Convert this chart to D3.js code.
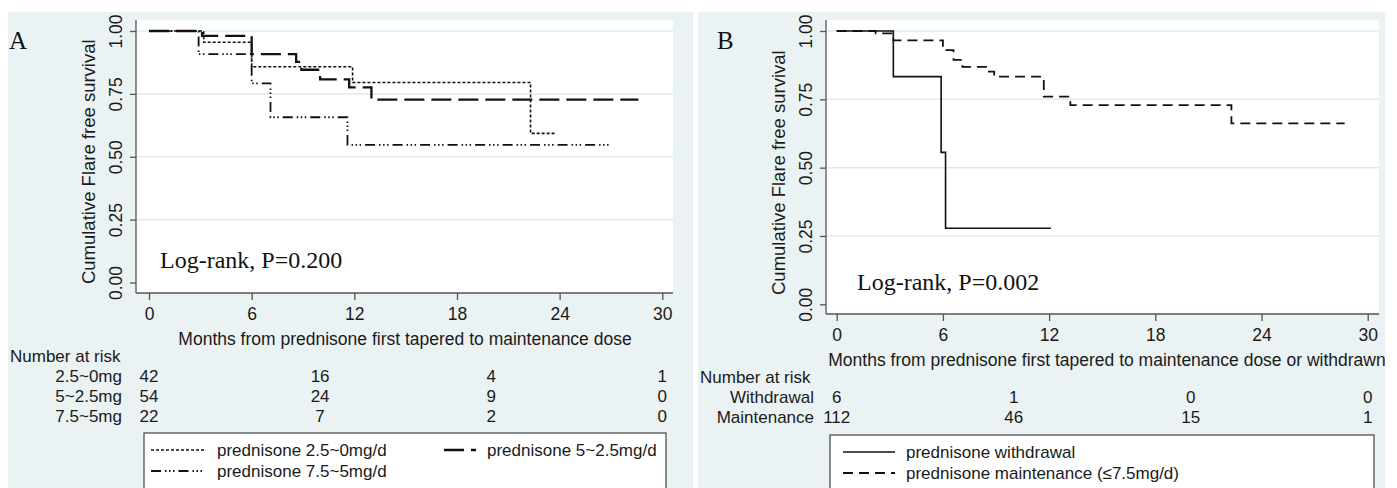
<!DOCTYPE html>
<html>
<head>
	<title></title>
	<style type="text/css">
		body {
			margin: 0;
			background: #fff;
		}
		.sans {
			font-family: "Liberation Sans", Arial, sans-serif;
			fill: #1a1a1a;
		}
		.serif {
			font-family: "Liberation Serif", "Times New Roman", serif;
			fill: #111;
		}
	</style>
</head>
<body>
	<svg class="viz" width="1397" height="488"></svg>

	<script src="https://d3js.org/d3.v7.min.js" charset="utf-8"></script>
	<script type="text/javascript">

		// ---- data ----
		// panel A: months and survival at each step (last point = end of follow-up)
		var aDoseA_t = [0, 3.2, 6.0, 11.9, 22.3, 23.7];
		var aDoseA_s = [1, 0.955, 0.858, 0.795, 0.593, 0.593];
		var aDoseB_t = [0, 3.1, 6.0, 8.6, 8.9, 10.0, 11.7, 13.0, 28.6];
		var aDoseB_s = [1, 0.981, 0.908, 0.877, 0.846, 0.808, 0.776, 0.727, 0.727];
		var aDoseC_t = [0, 2.9, 6.0, 7.1, 11.6, 27.0];
		var aDoseC_s = [1, 0.908, 0.792, 0.657, 0.547, 0.547];

		// panel B
		var bWithdraw_t = [0, 3.2, 5.9, 6.15, 12.1];
		var bWithdraw_s = [1, 0.833, 0.556, 0.278, 0.278];
		var bMaint_t = [0, 2.2, 3.2, 6.0, 6.6, 7.1, 8.5, 8.9, 11.7, 13.2, 22.3, 28.7];
		var bMaint_s = [1, 0.991, 0.966, 0.930, 0.894, 0.869, 0.851, 0.833, 0.760, 0.729, 0.662, 0.662];

		var xTicks = [0, 6, 12, 18, 24, 30];
		var yTicks = [0, 0.25, 0.5, 0.75, 1];
		var riskTimes = [0, 10, 20, 30];

		var aRiskLabels = ['2.5~0mg', '5~2.5mg', '7.5~5mg'];
		var aRisk = [[42, 16, 4, 1], [54, 24, 9, 0], [22, 7, 2, 0]];
		var bRiskLabels = ['Withdrawal', 'Maintenance'];
		var bRisk = [[6, 1, 0, 0], [112, 46, 15, 1]];

		var aLegend = ['prednisone 2.5~0mg/d', 'prednisone 5~2.5mg/d', 'prednisone 7.5~5mg/d'];
		var bLegend = ['prednisone withdrawal', 'prednisone maintenance (\u22647.5mg/d)'];

		// line styles
		var dotted = { dash: '3,2', w: 1.6 };
		var longdash = { dash: '20,7', w: 2.3 };
		var dashdot = { dash: '10,4,1.5,2.5,1.5,2.5,1.5,4', w: 1.8 };
		var solid = { dash: null, w: 1.6 };
		var dashed = { dash: '10,6', w: 1.8 };

		var svg = d3.select('.viz');

		function drawPanel(p, id) {
			// clip each panel to its background box
			svg.append('clipPath').attr('id', id)
				.append('rect')
					.attr('x', p.bg[0]).attr('y', 0)
					.attr('width', p.bg[1] - p.bg[0]).attr('height', 488);
			var g = svg.append('g').attr('clip-path', 'url(#' + id + ')');

			// panel background
			g.append('rect')
				.attr('x', p.bg[0]).attr('y', 12)
				.attr('width', p.bg[1] - p.bg[0]).attr('height', 480)
				.attr('fill', '#eaf2f3');

			var x = d3.scaleLinear().domain([0, 30]).range([p.x0, p.x30]);
			var y = d3.scaleLinear().domain([0, 1]).range([p.y0, 31]);

			// plot region
			g.append('rect')
				.attr('x', p.left).attr('y', 20)
				.attr('width', p.right - p.left).attr('height', p.axisY - 20)
				.attr('fill', '#fff');

			// grid lines
			g.selectAll('.grid').data(yTicks.filter(function(d) { return d > 0; }))
				.enter().append('line')
					.attr('x1', p.left).attr('x2', p.right)
					.attr('y1', function(d) { return y(d); })
					.attr('y2', function(d) { return y(d); })
					.attr('stroke', '#dfeaee').attr('stroke-width', 1.5);

			// y axis
			var yAxis = g.append('g')
				.attr('transform', 'translate(' + p.left + ',0)')
				.call(d3.axisLeft(y).tickValues(yTicks).tickSize(6).tickFormat(d3.format('.2f')));
			yAxis.select('.domain').attr('d', 'M0,20V' + p.axisY);
			yAxis.selectAll('.tick text')
				.attr('class', 'sans')
				.attr('transform', 'rotate(-90)')
				.attr('x', 0).attr('y', -14).attr('dy', 0)
				.attr('text-anchor', 'middle')
				.style('font-size', '17.5px');

			// x axis
			var xAxis = g.append('g')
				.attr('transform', 'translate(0,' + p.axisY + ')')
				.call(d3.axisBottom(x).tickValues(xTicks).tickSize(7));
			xAxis.select('.domain').attr('d', 'M' + p.left + ',0H' + p.right);
			xAxis.selectAll('.tick text')
				.attr('class', 'sans')
				.attr('y', 27).attr('dy', 0)
				.style('font-size', '17.5px');

			g.selectAll('.domain, .tick line').attr('stroke', '#555').attr('stroke-width', 1.3);

			// curves
			var line = d3.line()
				.x(function(d) { return x(d[0]); })
				.y(function(d) { return y(d[1]); })
				.curve(d3.curveStepAfter);
			p.series.forEach(function(s) {
				var pts = d3.zip(s.t, s.s);
				g.append('path')
					.attr('d', line(pts))
					.attr('fill', 'none')
					.attr('stroke', '#111')
					.attr('stroke-width', s.style.w)
					.attr('stroke-dasharray', s.style.dash);
			});

			// titles
			g.append('text').attr('class', 'sans')
				.attr('transform', 'translate(' + (p.left - 41) + ',' + ((31 + p.y0) / 2 + 5) + ') rotate(-90)')
				.attr('text-anchor', 'middle')
				.style('font-size', '18.5px')
				.text('Cumulative Flare free survival');
			g.append('text').attr('class', 'sans')
				.attr('x', p.xTitleX).attr('y', p.axisY + 52)
				.attr('text-anchor', 'middle')
				.style('font-size', '17.5px')
				.text(p.xTitle);

			g.append('text').attr('class', 'serif')
				.attr('x', p.bg[0] + p.letterDx).attr('y', 49)
				.style('font-size', '25px')
				.text(p.letter);
			g.append('text').attr('class', 'serif')
				.attr('x', p.logX).attr('y', p.logY)
				.style('font-size', '24px')
				.text(p.logrank);

			// number at risk table
			var rowY = p.axisY + 69;
			g.append('text').attr('class', 'sans')
				.attr('x', p.bg[0] + 2).attr('y', rowY)
				.style('font-size', '17px')
				.text('Number at risk');
			p.riskLabels.forEach(function(lab, i) {
				var yy = rowY + 20 * (i + 1);
				g.append('text').attr('class', 'sans')
					.attr('x', p.riskLabelX).attr('y', yy)
					.attr('text-anchor', 'end')
					.style('font-size', '17px')
					.text(lab);
				g.selectAll(null).data(p.risk[i])
					.enter().append('text').attr('class', 'sans')
						.attr('x', function(d, j) { return x(riskTimes[j]); })
						.attr('y', yy)
						.attr('text-anchor', 'middle')
						.style('font-size', '17px')
						.text(function(d) { return d; });
			});

			// legend box
			g.append('rect')
				.attr('x', p.legBox[0]).attr('y', p.legBox[2])
				.attr('width', p.legBox[1] - p.legBox[0]).attr('height', 80)
				.attr('fill', '#fff').attr('stroke', '#444').attr('stroke-width', 1.2);
			p.legend.forEach(function(it) {
				g.append('line')
					.attr('x1', it.x).attr('x2', it.x + it.len)
					.attr('y1', it.y - 6).attr('y2', it.y - 6)
					.attr('stroke', '#111')
					.attr('stroke-width', it.style.w)
					.attr('stroke-dasharray', it.style.dash);
				g.append('text').attr('class', 'sans')
					.attr('x', it.x + it.len + 11).attr('y', it.y)
					.style('font-size', '17px')
					.text(it.label);
			});
		}

		drawPanel({
			bg: [8, 693], letter: 'A', letterDx: 1,
			left: 136, right: 673, axisY: 293, x0: 149, x30: 662.3, y0: 282.5,
			xTitle: 'Months from prednisone first tapered to maintenance dose', xTitleX: 405,
			logrank: 'Log-rank, P=0.200', logX: 160, logY: 268,
			series: [
				{ t: aDoseA_t, s: aDoseA_s, style: dotted },
				{ t: aDoseB_t, s: aDoseB_s, style: longdash },
				{ t: aDoseC_t, s: aDoseC_s, style: dashdot }
			],
			riskLabels: aRiskLabels, risk: aRisk, riskLabelX: 122,
			legBox: [144, 666, 433],
			legend: [
				{ x: 151, len: 55, y: 456, style: dotted, label: aLegend[0] },
				{ x: 444, len: 32, y: 456, style: longdash, label: aLegend[1] },
				{ x: 151, len: 55, y: 477, style: dashdot, label: aLegend[2] }
			]
		}, 'clipA');

		drawPanel({
			bg: [698, 1385], letter: 'B', letterDx: 19,
			left: 826, right: 1379, axisY: 314, x0: 836.7, x30: 1367.7, y0: 304.3,
			xTitle: 'Months from prednisone first tapered to maintenance dose or withdrawn', xTitleX: 1107,
			logrank: 'Log-rank, P=0.002', logX: 857, logY: 290,
			series: [
				{ t: bWithdraw_t, s: bWithdraw_s, style: solid },
				{ t: bMaint_t, s: bMaint_s, style: dashed }
			],
			riskLabels: bRiskLabels, risk: bRisk, riskLabelX: 814,
			legBox: [830, 1374, 435],
			legend: [
				{ x: 843, len: 52, y: 458, style: solid, label: bLegend[0] },
				{ x: 843, len: 52, y: 479, style: dashed, label: bLegend[1] }
			]
		}, 'clipB');

	</script>
</body>
</html>
